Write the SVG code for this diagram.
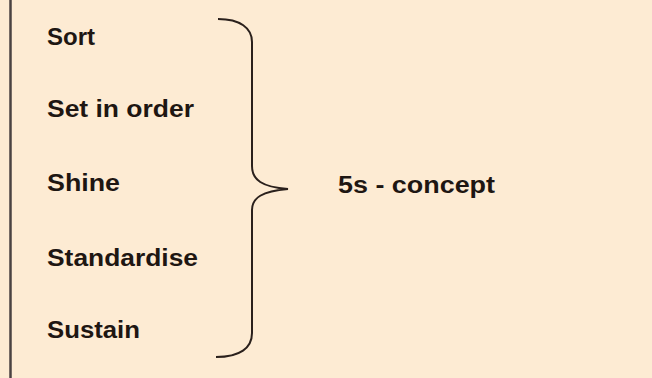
<svg xmlns="http://www.w3.org/2000/svg" width="652" height="378" viewBox="0 0 652 378">
<style>
.t{font-family:"Liberation Sans",Arial,sans-serif;font-weight:bold;font-size:23px;fill:#1e1612}
.br{fill:none;stroke:#2a201c;stroke-width:2}
</style>
<rect x="0" y="0" width="652" height="378" fill="#FDEBD3"/>
<line x1="10.5" y1="0" x2="10.5" y2="378" stroke="#4a4242" stroke-width="2.5"/>
<g id="sort"><text class="t" x="47" y="45" textLength="48" lengthAdjust="spacingAndGlyphs">Sort</text></g>
<g id="set-in-order"><text class="t" x="47" y="117" textLength="147" lengthAdjust="spacingAndGlyphs">Set in order</text></g>
<g id="shine"><text class="t" x="47" y="191" textLength="73" lengthAdjust="spacingAndGlyphs">Shine</text></g>
<g id="standardise"><text class="t" x="47" y="266" textLength="151" lengthAdjust="spacingAndGlyphs">Standardise</text></g>
<g id="sustain"><text class="t" x="47" y="338" textLength="93" lengthAdjust="spacingAndGlyphs">Sustain</text></g>
<g id="concept"><text class="t" x="338" y="193" textLength="157" lengthAdjust="spacingAndGlyphs">5s -  concept</text></g>
<g id="connectors">
<path class="br" d="M218,19 C240,19 252,28 252,42 L252,166 C252,180 262,187 288,189 C262,191 252,198 252,210 L252,333 C252,348 240,357 216,357"/>
</g>
</svg>
